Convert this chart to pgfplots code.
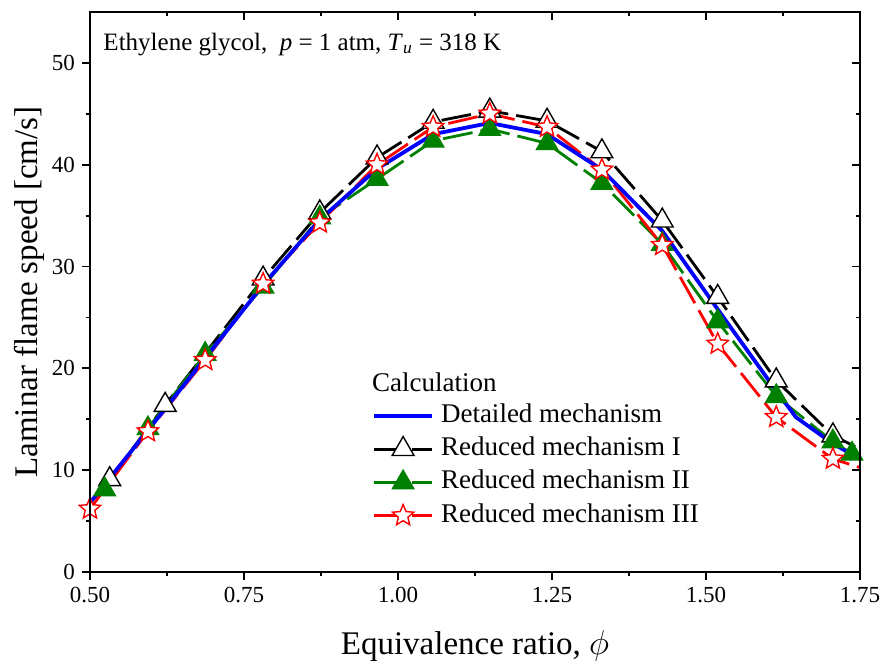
\documentclass[border=0pt]{standalone}
\usepackage{fontspec}
\setmainfont{Liberation Serif}
\usepackage{pgfplots}
\pgfplotsset{compat=1.18}
\definecolor{cblue}{RGB}{0,0,255}
\definecolor{cgreen}{RGB}{0,128,0}
\definecolor{cred}{RGB}{255,0,0}
\pgfdeclareplotmark{ostar}{%
  \pgfpathmoveto{\pgfqpointpolar{90}{\pgfplotmarksize}}%
  \pgfpathlineto{\pgfqpointpolar{126}{0.45\pgfplotmarksize}}%
  \pgfpathlineto{\pgfqpointpolar{162}{\pgfplotmarksize}}%
  \pgfpathlineto{\pgfqpointpolar{198}{0.45\pgfplotmarksize}}%
  \pgfpathlineto{\pgfqpointpolar{234}{\pgfplotmarksize}}%
  \pgfpathlineto{\pgfqpointpolar{270}{0.45\pgfplotmarksize}}%
  \pgfpathlineto{\pgfqpointpolar{306}{\pgfplotmarksize}}%
  \pgfpathlineto{\pgfqpointpolar{342}{0.45\pgfplotmarksize}}%
  \pgfpathlineto{\pgfqpointpolar{18}{\pgfplotmarksize}}%
  \pgfpathlineto{\pgfqpointpolar{54}{0.45\pgfplotmarksize}}%
  \pgfpathclose\pgfusepathqfillstroke}
\begin{document}
\begin{tikzpicture}
\pgfplotsset{
  common/.style={scale only axis, width=385bp, height=280bp,
    xmin=0.5, xmax=1.75, ymin=0, ymax=55,
    xtick={0.5,0.75,1.0,1.25,1.5,1.75}, ytick={0,10,20,30,40,50},
    minor x tick num=1, minor y tick num=1,
    major tick length=4bp, minor tick length=2.2bp,
    axis line style={line width=0.9bp},
    every tick/.style={line width=0.9bp, black},
  },
  sI/.style={black, line width=1.4bp, dash pattern=on 15bp off 4bp, mark=triangle*, mark size=6.3bp, mark options={solid, fill=white, draw=black, line width=0.7bp}},
  sII/.style={cgreen, line width=1.4bp, dash pattern=on 15bp off 4bp, mark=triangle*, mark size=6.3bp, mark options={solid, fill=cgreen, draw=cgreen, line width=0.5bp}},
  sIII/.style={cred, line width=1.4bp, dash pattern=on 15bp off 4bp, mark=ostar, mark size=5.6bp, mark options={solid, fill=white, draw=cred, line width=0.7bp}},
  sD/.style={cblue, line width=1.9bp, solid, no marks},
}
\begin{axis}[common, name=main,
  tick align=outside, xtick pos=left, ytick pos=left,
  /pgf/number format/assume math mode=true,
  xticklabel style={/pgf/number format/.cd, fixed, fixed zerofill, precision=2},
  ticklabel style={font=\fontsize{11.5bp}{13bp}\selectfont},
  xlabel={Equivalence ratio, $\phi$},
  ylabel={Laminar flame speed [cm/s]},
  label style={font=\fontsize{16.5bp}{19bp}\selectfont},
  xlabel style={yshift=-7bp},
  ylabel style={yshift=-3bp},
  legend cell align=left,
  legend style={draw=none, fill=none, at={(rel axis cs:0.366,0.3018)}, anchor=north west,
    font=\fontsize{13.5bp}{15bp}\selectfont, row sep=4.1bp, column sep=3.5bp, inner sep=0pt,
    nodes={inner sep=0pt, text height=9.5bp, text depth=3bp}},
  legend image code/.code={\draw[mark repeat=2, mark phase=2] plot coordinates {(0bp,0bp) (14.5bp,0bp) (29bp,0bp)};},
]
\addlegendimage{sD}
\addlegendentry{Detailed mechanism}
\addlegendimage{sI}
\addlegendentry{Reduced mechanism I}
\addlegendimage{sII}
\addlegendentry{Reduced mechanism II}
\addlegendimage{sIII}
\addlegendentry{Reduced mechanism III}

\addplot[sI, forget plot] coordinates {
(0.532,9.1) (0.622,16.4) (0.781,28.8) (0.873,35.3) (0.966,40.7) (1.057,44.2)
(1.149,45.3) (1.242,44.3) (1.331,41.3) (1.429,34.5) (1.519,27.0) (1.614,18.8)
(1.706,13.4) (1.79,10.9)};
\addplot[sII, forget plot] coordinates {
(0.524,8.1) (0.594,14.1) (0.687,21.4) (0.781,28.0) (0.873,34.8) (0.966,38.6)
(1.057,42.35) (1.149,43.5) (1.242,42.1) (1.331,38.2) (1.429,32.2) (1.519,24.6)
(1.614,17.25) (1.706,12.8) (1.737,11.6) (1.79,10.8)};
\addplot[sIII, forget plot] coordinates {
(0.5,6.2) (0.594,13.8) (0.687,20.8) (0.781,28.3) (0.873,34.3) (0.966,40.0)
(1.057,43.7) (1.149,45.0) (1.242,43.7) (1.331,39.5) (1.429,32.1) (1.519,22.4)
(1.614,15.2) (1.706,11.1) (1.8,9.3)};
\addplot[sD, forget plot] coordinates {
(0.5,6.8) (0.594,13.9) (0.687,21.0) (0.781,28.2) (0.873,34.6) (0.966,39.6)
(1.057,43.0) (1.149,44.1) (1.242,43.0) (1.331,39.5) (1.429,33.5) (1.519,25.8)
(1.614,17.8) (1.646,15.2) (1.706,12.6) (1.75,11.1)};

\node[anchor=base west, inner sep=0pt, font=\fontsize{13.5bp}{15bp}\selectfont] at (rel axis cs:0.366,0.323) {Calculation};
\node[anchor=base west, inner sep=0pt, font=\fontsize{12.5bp}{15bp}\selectfont] at (rel axis cs:0.017,0.932) {Ethylene glycol,\ \ \textit{p} = 1 atm, \textit{T}\textsubscript{\textit{u}} = 318 K};
\end{axis}
\begin{axis}[common, tick align=inside, xtick pos=right, ytick pos=right,
  xticklabels={}, yticklabels={}]
\end{axis}
\pgfresetboundingbox
\path[use as bounding box] ([shift={(-45bp,-44.5bp)}]main.south west) rectangle ([shift={(10.5bp,6bp)}]main.north east);
\end{tikzpicture}
\end{document}
